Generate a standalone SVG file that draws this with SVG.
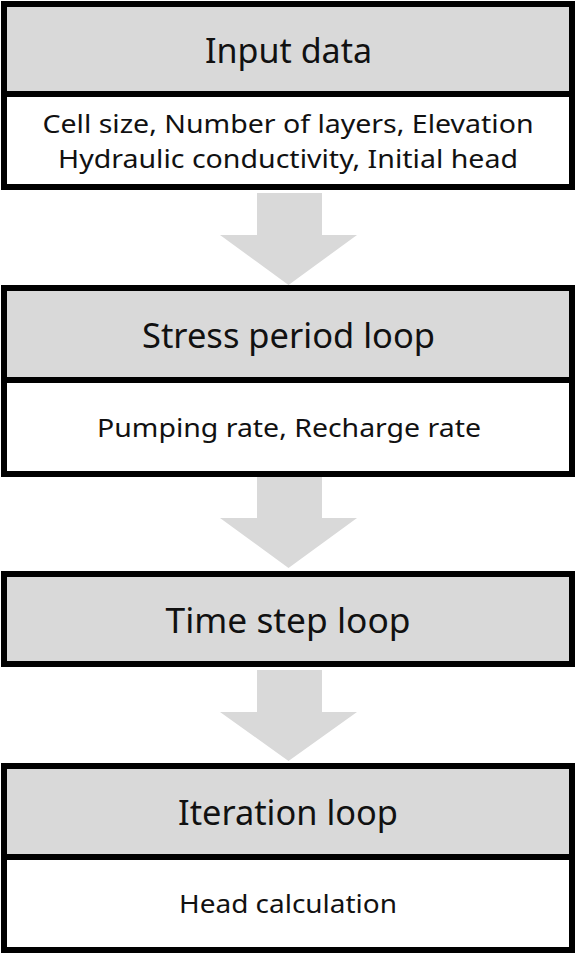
<svg xmlns="http://www.w3.org/2000/svg" width="577" height="954" viewBox="0 0 577 954">
<style>
.box{fill:#ffffff;stroke:#000000;stroke-width:6}
.hdr{fill:#d9d9d9}
.sep{stroke:#000000;stroke-width:6}
.arr{fill:#d9d9d9}
.t1{font-family:"Noto Sans","Open Sans",sans-serif;font-size:34px;fill:#111111;text-anchor:middle}
.t2{font-family:"Noto Sans","Open Sans",sans-serif;font-size:26px;fill:#111111;text-anchor:middle}
</style>
<rect width="577" height="954" fill="#ffffff"/>
<g id="connectors">
<polygon class="arr" points="257,193 322,193 322,235 357,235 288.5,285 220,235 257,235"/>
<polygon class="arr" points="257,477 322,477 322,518 357,518 288.5,568 220,518 257,518"/>
<polygon class="arr" points="257,670 322,670 322,712 357,712 288.5,761 220,712 257,712"/>
</g>
<g id="input-data">
<rect class="hdr" x="4" y="4" width="568" height="90"/>
<rect class="box" x="4" y="4" width="568" height="183" fill="none" style="fill:none"/>
<line class="sep" x1="4" y1="94" x2="572" y2="94"/>
<text class="t1" x="288.5" y="63" textLength="167" lengthAdjust="spacingAndGlyphs">Input data</text>
<text class="t2" x="288" y="133" textLength="491" lengthAdjust="spacingAndGlyphs">Cell size, Number of layers, Elevation</text>
<text class="t2" x="288" y="168" textLength="460" lengthAdjust="spacingAndGlyphs">Hydraulic conductivity, Initial head</text>
</g>
<g id="stress-period-loop">
<rect class="hdr" x="4" y="288" width="568" height="92"/>
<rect class="box" x="4" y="288" width="568" height="186" style="fill:none"/>
<line class="sep" x1="4" y1="380" x2="572" y2="380"/>
<text class="t1" x="288.5" y="348" textLength="293" lengthAdjust="spacingAndGlyphs">Stress period loop</text>
<text class="t2" x="289" y="437" textLength="384" lengthAdjust="spacingAndGlyphs">Pumping rate, Recharge rate</text>
</g>
<g id="time-step-loop">
<rect class="box" x="4" y="574" width="568" height="90" style="fill:#d9d9d9"/>
<text class="t1" x="288" y="633" textLength="245" lengthAdjust="spacingAndGlyphs">Time step loop</text>
</g>
<g id="iteration-loop">
<rect class="hdr" x="4" y="766" width="568" height="91"/>
<rect class="box" x="4" y="766" width="568" height="184" style="fill:none"/>
<line class="sep" x1="4" y1="857" x2="572" y2="857"/>
<text class="t1" x="288" y="825" textLength="220" lengthAdjust="spacingAndGlyphs">Iteration loop</text>
<text class="t2" x="288" y="913" textLength="218" lengthAdjust="spacingAndGlyphs">Head calculation</text>
</g>
</svg>
